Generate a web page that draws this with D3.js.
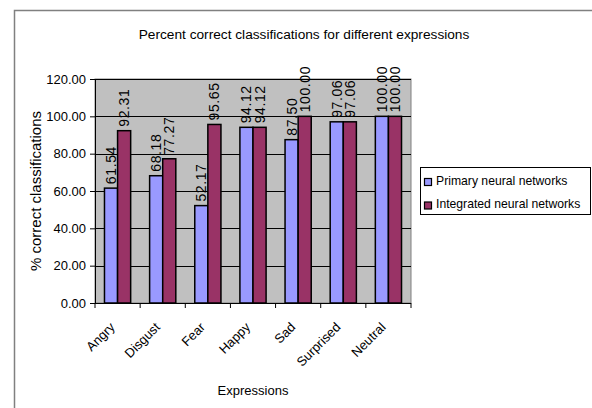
<!DOCTYPE html>
<html>
<head>
<meta charset="utf-8">
<script src="https://cdn.jsdelivr.net/npm/d3@7"></script>
<style>
  html, body { margin: 0; padding: 0; background: #fff; }
  svg { display: block; font-family: "Liberation Sans", Arial, sans-serif; }
</style>
</head>
<body>
<svg id="chart" width="592" height="408"></svg>
<script>
// Expression categories and classification rates (%)
const categories = ["Angry", "Disgust", "Fear", "Happy", "Sad", "Surprised", "Neutral"];
const primary = [61.54, 68.18, 52.17, 94.12, 87.50, 97.06, 100.00];
const integrated = [92.31, 77.27, 95.65, 94.12, 100.00, 97.06, 100.00];
const seriesNames = ["Primary neural networks", "Integrated neural networks"];
const seriesColors = ["#9999FF", "#993366"];
const yTicks = [0, 20, 40, 60, 80, 100, 120];

const svg = d3.select("#chart");

// Outer chart frame
svg.append("path")
  .attr("d", "M14.5,408 V10.5 H592")
  .attr("fill", "none").attr("stroke", "#808080").attr("stroke-width", 1.5);

const plot = { left: 95, right: 411, top: 79, bottom: 303 };

const x = d3.scaleBand().domain(categories).range([plot.left, plot.right]);
const y = d3.scaleLinear().domain([0, 120]).range([plot.bottom, plot.top]);
const barW = x.bandwidth() * 0.29;

// Plot background
svg.append("rect")
  .attr("x", plot.left).attr("y", plot.top)
  .attr("width", plot.right - plot.left).attr("height", plot.bottom - plot.top)
  .attr("fill", "#C0C0C0").attr("stroke", "#808080").attr("stroke-width", 1);

// Horizontal gridlines
svg.append("g").selectAll("line").data(yTicks.filter(d => d > 0)).join("line")
  .attr("x1", plot.left).attr("x2", plot.right)
  .attr("y1", d => Math.round(y(d)) + 0.5).attr("y2", d => Math.round(y(d)) + 0.5)
  .attr("stroke", "#000").attr("stroke-width", 1);

// Y axis
const yAxis = d3.axisLeft(y).tickValues(yTicks).tickFormat(d3.format(".2f")).tickSize(5).tickPadding(4);
const gy = svg.append("g").attr("transform", `translate(${plot.left},0)`).call(yAxis);
gy.select(".domain").attr("stroke", "#000");
gy.selectAll("text").attr("font-size", 13).attr("fill", "#000")
  .attr("font-family", "Liberation Sans, Arial, sans-serif");

// X axis with ticks at category boundaries
const gx = svg.append("g").attr("transform", `translate(0,${plot.bottom})`);
gx.append("line").attr("x1", plot.left).attr("x2", plot.right).attr("y1", 0.5).attr("y2", 0.5).attr("stroke", "#000");
const bounds = categories.map(c => x(c)).concat([plot.right]);
gx.selectAll("line.tk").data(bounds).join("line").attr("class", "tk")
  .attr("x1", d => d).attr("x2", d => d).attr("y1", 0).attr("y2", 5).attr("stroke", "#000");
gx.selectAll("text").data(categories).join("text")
  .attr("transform", d => `translate(${x(d) + x.bandwidth() / 2 - 2},${25}) rotate(-45)`)
  .attr("text-anchor", "end").attr("font-size", 13).attr("fill", "#000")
  .text(d => d);

// Bars with value labels
const series = [primary, integrated];
series.forEach((vals, si) => {
  const g = svg.append("g");
  const bx = c => x(c) + x.bandwidth() / 2 - barW + si * barW;
  g.selectAll("rect").data(categories).join("rect")
    .attr("x", c => bx(c))
    .attr("y", (c, i) => y(vals[i]))
    .attr("width", barW)
    .attr("height", (c, i) => y(0) - y(vals[i]))
    .attr("fill", seriesColors[si]).attr("stroke", "#000").attr("stroke-width", 1.5);
  g.selectAll("text").data(categories).join("text")
    .attr("transform", (c, i) => `translate(${bx(c) + barW / 2 + 5},${y(vals[i]) - 4}) rotate(-90)`)
    .attr("text-anchor", "start").attr("font-size", 14).attr("letter-spacing", 0.6).attr("fill", "#000")
    .text((c, i) => d3.format(".2f")(vals[i]));
});

// Title
svg.append("text").attr("x", 304).attr("y", 39).attr("text-anchor", "middle")
  .attr("font-size", 13.7).attr("fill", "#000")
  .text("Percent correct classifications for different expressions");

// Axis titles
svg.append("text").attr("transform", `translate(41,191) rotate(-90)`).attr("text-anchor", "middle")
  .attr("font-size", 15).attr("fill", "#000").text("% correct classifications");
svg.append("text").attr("x", 253).attr("y", 395).attr("text-anchor", "middle")
  .attr("font-size", 13).attr("fill", "#000").text("Expressions");

// Legend
const lg = svg.append("g");
lg.append("rect").attr("x", 420.5).attr("y", 167.5).attr("width", 170).attr("height", 47)
  .attr("fill", "#fff").attr("stroke", "#000").attr("stroke-width", 1);
seriesNames.forEach((name, i) => {
  const yy = 182 + i * 23.5;
  lg.append("rect").attr("x", 424.5).attr("y", yy - 3.5).attr("width", 7).attr("height", 7)
    .attr("fill", seriesColors[i]).attr("stroke", "#000").attr("stroke-width", 1.2);
  lg.append("text").attr("x", 436).attr("y", yy + 2.5).attr("font-size", 12.2).attr("fill", "#000").text(name);
});
</script>
</body>
</html>
